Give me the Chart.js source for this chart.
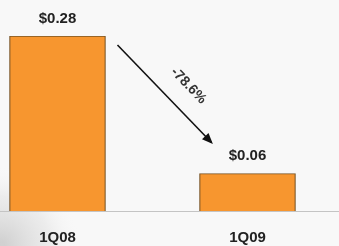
<!DOCTYPE html>
<html>
<head>
<meta charset="UTF-8">
<title>EPS 1Q08 vs 1Q09</title>
<script src="https://cdn.jsdelivr.net/npm/chart.js@4"></script>
<style>
  html, body { margin: 0; padding: 0; background: #f8f8f8; }
  #wrap { position: relative; width: 339px; height: 246px; }
</style>
</head>
<body>
<div id="wrap"><canvas id="chart"></canvas></div>
<script>
// data
const quarters = ['1Q08', '1Q09'];
const eps = [0.28, 0.06];
const valueLabels = ['$0.28', '$0.06'];
const changeLabel = '-78.6%';

const FONT = '"Liberation Sans", Arial, sans-serif';

// faded grey backdrop in the lower-left corner + page colour
const backdrop = {
  id: 'backdrop',
  beforeDraw(chart) {
    const ctx = chart.ctx;
    ctx.save();
    ctx.fillStyle = '#f8f8f8';
    ctx.fillRect(0, 0, chart.width, chart.height);
    const g = ctx.createRadialGradient(0, chart.height, 5, 0, chart.height, 80);
    g.addColorStop(0, 'rgba(170,170,170,0.5)');
    g.addColorStop(0.6, 'rgba(200,200,200,0.25)');
    g.addColorStop(1, 'rgba(248,248,248,0)');
    ctx.fillStyle = g;
    ctx.fillRect(0, chart.height - 100, 100, 100);
    ctx.restore();
  }
};

// value labels over the bars, plus the change arrow
const annotate = {
  id: 'annotate',
  afterDatasetsDraw(chart) {
    const ctx = chart.ctx;
    const x = chart.scales.x, y = chart.scales.y;
    ctx.save();
    ctx.fillStyle = '#222';
    ctx.font = 'bold 15px ' + FONT;
    ctx.textAlign = 'center';
    ctx.textBaseline = 'bottom';
    eps.forEach((v, i) => {
      ctx.fillText(valueLabels[i], x.getPixelForValue(i), y.getPixelForValue(v) - 10);
    });

    // arrow from first bar top toward the second label
    const x0 = x.getPixelForValue(0) + 60, y0 = y.getPixelForValue(eps[0]) + 9;
    const x1 = x.getPixelForValue(1) - 36, y1 = y.getPixelForValue(eps[1]) - 31;
    ctx.strokeStyle = '#111';
    ctx.lineWidth = 1.6;
    ctx.beginPath();
    ctx.moveTo(x0, y0);
    ctx.lineTo(x1, y1);
    ctx.stroke();
    const ang = Math.atan2(y1 - y0, x1 - x0);
    ctx.fillStyle = '#111';
    ctx.beginPath();
    ctx.moveTo(x1 + 2 * Math.cos(ang), y1 + 2 * Math.sin(ang));
    ctx.lineTo(x1 - 9 * Math.cos(ang) + 4.5 * Math.sin(ang), y1 - 9 * Math.sin(ang) - 4.5 * Math.cos(ang));
    ctx.lineTo(x1 - 9 * Math.cos(ang) - 4.5 * Math.sin(ang), y1 - 9 * Math.sin(ang) + 4.5 * Math.cos(ang));
    ctx.closePath();
    ctx.fill();

    // rotated percentage text, sitting to the upper right of the arrow
    const mx = (x0 + x1) / 2 + 24, my = (y0 + y1) / 2 - 8;
    ctx.translate(mx, my);
    ctx.rotate(ang);
    ctx.fillStyle = '#333';
    ctx.font = 'bold 14px ' + FONT;
    ctx.textBaseline = 'middle';
    ctx.fillText(changeLabel, 0, 0);
    ctx.restore();
  }
};

new Chart(document.getElementById('chart'), {
  type: 'bar',
  data: {
    datasets: [{
      data: eps.map((v, i) => ({ x: i, y: v })),
      backgroundColor: '#f7962f',
      borderColor: '#7a5424',
      borderWidth: 1.2,
      borderSkipped: 'bottom',
      barThickness: 96
    }]
  },
  options: {
    responsive: true,
    maintainAspectRatio: false,
    animation: false,
    layout: { padding: { top: 36, left: 0, right: 0, bottom: 0 } },
    plugins: { legend: { display: false }, tooltip: { enabled: false } },
    scales: {
      x: {
        type: 'linear',
        offset: false,
        min: -0.3026,
        max: 1.4816,
        afterBuildTicks(scale) {
          scale.ticks = quarters.map((q, i) => ({ value: i }));
        },
        afterFit(scale) {
          scale.height = 35;
        },
        grid: { display: false, drawTicks: false },
        border: { display: true, color: '#c4c4c4', width: 1 },
        ticks: {
          callback: (v) => quarters[v],
          color: '#222',
          font: { family: FONT, size: 15, weight: 'bold' },
          padding: 18,
          maxRotation: 0
        }
      },
      y: {
        display: false,
        min: 0,
        max: 0.28
      }
    }
  },
  plugins: [backdrop, annotate]
});
</script>
</body>
</html>
